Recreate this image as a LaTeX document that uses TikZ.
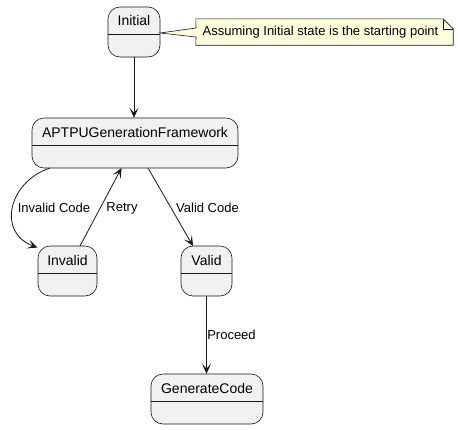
\documentclass[tikz,border=0pt]{standalone}
\usepackage{fontspec}
\setmainfont{Liberation Sans}
\usetikzlibrary{arrows.meta}
\definecolor{statefill}{HTML}{F1F1F1}
\definecolor{stateline}{HTML}{181818}
\definecolor{notefill}{HTML}{FEFFDD}
\begin{document}
\begin{tikzpicture}[x=1pt,y=-1pt,
  statebox/.style={draw=stateline, fill=statefill, rounded corners=12pt, minimum height=50pt, line width=0.6pt, inner sep=0pt},
  statename/.style={font=\fontsize{14}{16}\selectfont, inner sep=0pt},
  divider/.style={draw=stateline, line width=0.5pt},
  arr/.style={draw=stateline, line width=0.8pt, -{Stealth[length=10pt,width=9pt,inset=5pt]}},
  lbl/.style={font=\fontsize{13}{15}\selectfont, inner sep=0pt},
  notebox/.style={minimum width=257pt, minimum height=26pt, inner sep=0pt}]
\useasboundingbox (0,0) rectangle (458,429);

% states
\node[statebox, minimum width=52pt] (init) at (134,32) {};
\node[statename] (initT) at (134,20) {Initial};
\draw[divider] (init.west |- 0,34) -- (init.east |- 0,34);

\node[statebox, minimum width=206pt] (fw) at (135,143) {};
\node[statename] (fwT) at (135,132) {APTPUGenerationFramework};
\draw[divider] (fw.west |- 0,145) -- (fw.east |- 0,145);

\node[statebox, minimum width=59pt] (inv) at (67.5,271) {};
\node[statename] (invT) at (67.5,260) {Invalid};
\draw[divider] (inv.west |- 0,273) -- (inv.east |- 0,273);

\node[statebox, minimum width=51pt] (val) at (206.5,271) {};
\node[statename] (valT) at (206.5,260) {Valid};
\draw[divider] (val.west |- 0,273) -- (val.east |- 0,273);

\node[statebox, minimum width=112pt] (gen) at (207,399) {};
\node[statename] (genT) at (207,388) {GenerateCode};
\draw[divider] (gen.west |- 0,401) -- (gen.east |- 0,401);

% note
\node[notebox] (note) at (324.5,32) {};
\coordinate (wA) at (196,28);
\coordinate (wB) at (196,37);
\coordinate (wC) at (160,33);
\filldraw[fill=notefill, draw=stateline, line width=0.6pt]
  (note.south west) -- (wB) -- (wC) -- (wA) -- (note.north west)
  -- ([xshift=-10pt]note.north east) -- ([yshift=-10pt]note.north east)
  -- (note.south east) -- cycle;
\draw[stateline, line width=0.6pt] ([xshift=-10pt]note.north east) -- ([xshift=-10pt,yshift=-10pt]note.north east) -- ([yshift=-10pt]note.north east);
\node[lbl] (noteT) at (320.5,32.5) {Assuming Initial state is the starting point};

% connectors
\draw[arr] (init.south) -- (init.south |- fw.north);
\coordinate (c1) at (50,168);
\coordinate (c2) at (37.5,247.5);
\draw[arr] (c1) .. controls (8,182) and (-3,233) .. (c2);
\node[lbl] (l1) at (54,208) {Invalid Code};

\coordinate (r1) at (80,246);
\coordinate (r2) at (121.5,168);
\draw[arr] (r1) -- (r2);
\node[lbl] (l2) at (122,208) {Retry};

\coordinate (v1) at (148,168);
\coordinate (v2) at (193,246);
\draw[arr] (v1) -- (v2);
\node[lbl] (l3) at (207.5,208) {Valid Code};

\draw[arr] (val.south) -- (val.south |- gen.north);
\node[lbl] (l4) at (231.5,335) {Proceed};
\end{tikzpicture}
\end{document}
